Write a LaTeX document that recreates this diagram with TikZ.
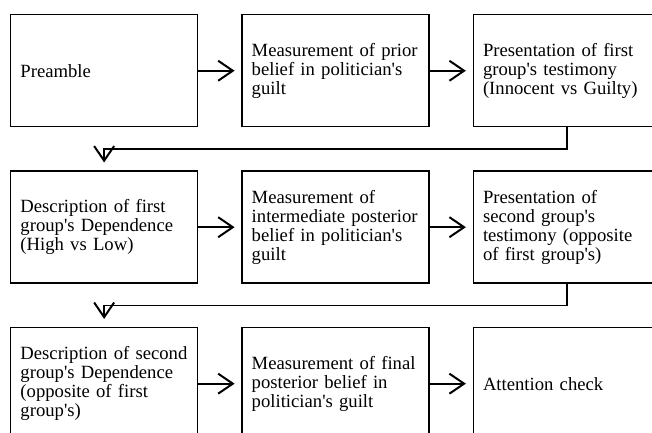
\documentclass[tikz,border=0pt]{standalone}
\usepackage{fontspec}
\setmainfont{Liberation Serif}[Ligatures=TeXOff]
\usepackage{tikz}
\usetikzlibrary{positioning}
\usetikzlibrary{arrows.meta}
\usetikzlibrary{calc}
\tikzstyle{stage}=[rectangle,draw,line width=1.1pt,minimum height=84pt,text width=125.5pt,inner xsep=7.3pt,align=left,font=\fontsize{14pt}{14.2pt}\selectfont]
\tikzstyle{edge} = [draw,line width=1.3pt,->]
\tikzset{>={Straight Barb[length=11pt,width=15pt,line width=1.5pt]}}

\begin{document}
\begin{tikzpicture}[node distance=32.25pt]

 \useasboundingbox (0,0) rectangle (489pt,-324pt);

 %Row 1
 \node[stage,anchor=north west] (pre) at (7.5pt,-10.5pt) {Preamble};
 \node[stage,right=of pre] (prior) {Measurement of prior\\belief in politician's\\guilt};
 \node[stage,right=of prior] (test1) {Presentation of first\\group's testimony\\(Innocent vs Guilty)};

 %Row 2
 \node[stage,below=of pre] (dep1) {Description of first\\group's Dependence\\(High vs Low)};
 \node[stage,right=of dep1] (inter) {Measurement of\\intermediate posterior\\belief in politician's\\guilt};
 \node[stage,right=of inter] (test2) {Presentation of\\second group's\\testimony (opposite\\of first group's)};

 %Row 3
 \node[stage,below=of dep1] (dep2) {Description of second\\group's Dependence\\(opposite of first\\group's)};
 \node[stage,right=of dep2] (final) {Measurement of final\\posterior belief in\\politician's guilt};
 \node[stage,right=of final] (check) {Attention check};

 \foreach \source/ \dest in {pre/prior, prior/test1, dep1/inter, inter/test2, dep2/final, final/check}
        \path[edge,shorten >=5pt] (\source) -- (\dest);

 %turns between rows
 \coordinate (turn1) at ($(pre.south)!0.5!(dep1.north)$);
 \coordinate (turn2) at ($(dep1.south)!0.5!(dep2.north)$);

 \path[edge,shorten >=6pt] (test1.south) |- (turn1) -- (dep1.north);
 \path[edge,shorten >=6pt] (test2.south) |- (turn2) -- (dep2.north);

\end{tikzpicture}
\end{document}
